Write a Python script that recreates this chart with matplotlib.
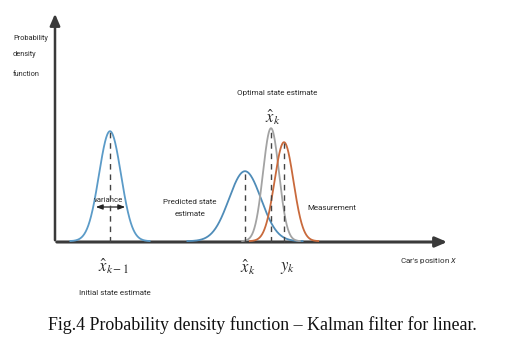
import numpy as np
import matplotlib
matplotlib.use("Agg")
import matplotlib.pyplot as plt

# Curve parameters (position units, height units)
names = ["initial", "predicted", "optimal", "measurement"]
means = [110, 245, 271, 284]
sigmas = [11, 16, 8, 9.5]
peaks = [110, 70, 113, 99]
colors = ["#5b9bc8", "#4f8cb8", "#a3a3a3", "#c96a3c"]

lab_font = ["Roboto", "DejaVu Sans"]
lab_size = 5.8

fig = plt.figure(figsize=(5.1, 3.55), dpi=100)
ax = fig.add_axes([0, 0, 1, 1])
ax.set_xlim(0, 510)
ax.set_ylim(-113, 242)
ax.axis("off")

axis_col = "#3a3a3a"
txt_col = "#2a2a2a"
kw = dict(family=lab_font, fontsize=lab_size, color=txt_col)

# axes with arrows
ax.annotate("", xy=(55, 231), xytext=(55, -1),
            arrowprops=dict(arrowstyle="-|>,head_length=0.7,head_width=0.3", color=axis_col, lw=1.8))
ax.annotate("", xy=(450, 0), xytext=(54, 0),
            arrowprops=dict(arrowstyle="-|>,head_length=0.7,head_width=0.3", color=axis_col, lw=2.2))

for m, s, p, c in zip(means, sigmas, peaks, colors):
    x = np.linspace(m - 3.6 * s, m + 3.6 * s, 300)
    y = p * np.exp(-0.5 * ((x - m) / s) ** 2)
    ax.plot(x, y + 0.8, color=c, lw=1.3, zorder=3)
    ax.plot([m, m], [0, p], color="#444444", lw=1.0, ls=(0, (4, 3.5)), zorder=4)

# variance arrow
ax.annotate("", xy=(93, 35), xytext=(128, 35),
            arrowprops=dict(arrowstyle="<|-|>,head_length=0.4,head_width=0.15", color="#222222", lw=0.9))
ax.text(109, 42, "variance", ha="center", va="center", **dict(kw, fontsize=5.6))

for txt, yy in zip(["Probability", "density", "function"], [204, 187, 168]):
    ax.text(13, yy, txt, ha="left", va="center", **dict(kw, fontsize=5.3))
ax.text(190, 34, "Predicted state\nestimate", ha="center", va="center", linespacing=2.0, **kw)
ax.text(277, 149, "Optimal state estimate", ha="center", va="center", **kw)
ax.text(332, 34, "Measurement", ha="center", va="center", **kw)
ax.text(429, -19, "Car's position $x$", ha="center", va="center", **kw)
ax.text(115, -51, "Initial state estimate", ha="center", va="center", **kw)

plt.rcParams["mathtext.fontset"] = "stix"
mk = dict(ha="center", va="center", fontsize=12, color=txt_col)
ax.text(114, -24, r"$\hat{x}_{k-1}$", **mk)
ax.text(248, -25, r"$\hat{x}_{k}$", **mk)
ax.text(288, -25, r"$y_{k}$", **mk)
ax.text(273, 125, r"$\hat{x}_{k}$", **mk)

fig.text(262 / 510, 1 - 325 / 355, "Fig.4 Probability density function \u2013 Kalman filter for linear.",
         ha="center", va="center", fontsize=12.9, family=["Liberation Serif", "DejaVu Serif"], color="#111111")

fig.savefig("out.png", dpi=100, facecolor="white")
